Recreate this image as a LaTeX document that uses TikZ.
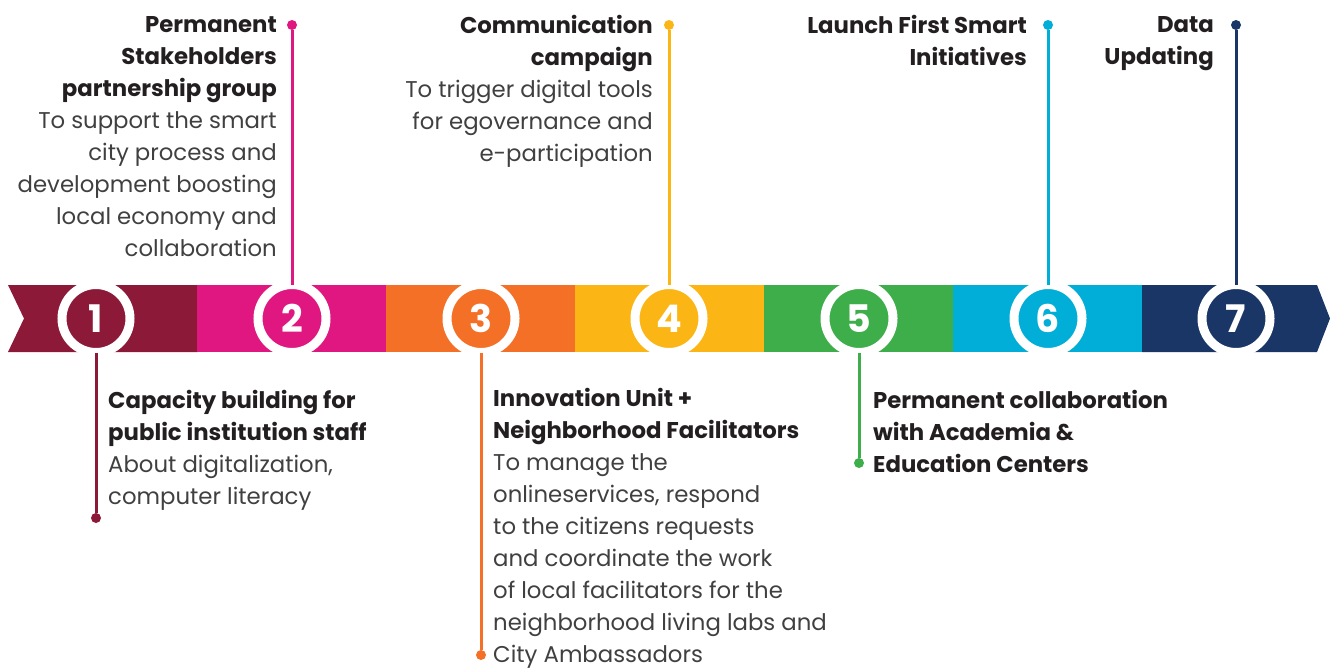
\documentclass[tikz,border=0pt]{standalone}
\usepackage{fontspec}
\setmainfont{Poppins}
\usetikzlibrary{positioning}
\definecolor{stepone}{RGB}{141, 25, 56}
\definecolor{steptwo}{RGB}{224, 23, 128}
\definecolor{stepthree}{RGB}{243, 112, 38}
\definecolor{stepfour}{RGB}{251, 182, 21}
\definecolor{stepfive}{RGB}{61, 174, 73}
\definecolor{stepsix}{RGB}{0, 174, 216}
\definecolor{stepseven}{RGB}{25, 54, 103}
\definecolor{titlecolor}{RGB}{35, 31, 32}
\definecolor{bodycolor}{RGB}{64, 64, 64}
\newcommand{\notetitle}[1]{{\bfseries\color{titlecolor}#1}}

\begin{document}
\begin{tikzpicture}[
        x=1pt, y=-1pt,
        badge/.style={circle, draw=white, line width=9pt, minimum size=68pt, inner sep=0pt, text=white, font=\fontsize{38}{38}\selectfont\bfseries},
        stem/.style={line width=3pt, shorten <=-4.5pt},
        dot/.style={circle, minimum size=10pt, inner sep=0pt},
        note/.style={inner sep=0pt, font=\fontsize{22.8}{32}\selectfont, text=bodycolor}
    ]
        \useasboundingbox (0,0) rectangle (1330,669);

        % Timeline band
        \fill[stepone] (8,285) -- (197.5,285) -- (197.5,352) -- (8,352) -- (24,318.5) -- cycle;
        \foreach \c/\x in {steptwo/197, stepthree/386, stepfour/575, stepfive/764, stepsix/953} {
            \fill[\c] (\x,285) rectangle (\x+189.5,352);
        }
        \fill[stepseven] (1142,285) -- (1317,285) -- (1330,318.5) -- (1317,352) -- (1142,352) -- cycle;

        % Steps
        \node[badge, fill=stepone] (n1) at (96,318.5) {1};
        \node[badge, fill=steptwo] (n2) at (292,318.5) {2};
        \node[badge, fill=stepthree] (n3) at (481,318.5) {3};
        \node[badge, fill=stepfour] (n4) at (669,318.5) {4};
        \node[badge, fill=stepfive] (n5) at (859,318.5) {5};
        \node[badge, fill=stepsix] (n6) at (1048,318.5) {6};
        \node[badge, fill=stepseven] (n7) at (1236,318.5) {7};

        % End dots
        \node[dot, fill=stepone] (d1) at (96,518) {};
        \node[dot, fill=steptwo] (d2) at (292,25) {};
        \node[dot, fill=stepthree] (d3) at (481,655) {};
        \node[dot, fill=stepfour] (d4) at (669,25) {};
        \node[dot, fill=stepfive] (d5) at (859,463) {};
        \node[dot, fill=stepsix] (d6) at (1048,25) {};
        \node[dot, fill=stepseven] (d7) at (1236,25) {};

        % Stems
        \foreach \i/\c in {1/stepone, 2/steptwo, 3/stepthree, 4/stepfour, 5/stepfive, 6/stepsix, 7/stepseven} {
            \draw[stem, \c] (n\i) -- (d\i);
        }

        % Notes above the band
        \node[note, anchor=north east, align=right] (t2) at (277,16.5) {
            \notetitle{Permanent}\\
            \notetitle{Stakeholders}\\
            \notetitle{partnership group}\\
            To support the smart\\
            city process and\\
            development boosting\\
            local economy and\\
            collaboration};
        \node[note, anchor=north east, align=right] (t4) at (653,15.5) {
            \notetitle{Communication}\\
            \notetitle{campaign}\\
            To trigger digital tools\\
            for egovernance and\\
            e-participation};
        \node[note, anchor=north east, align=right] (t6) at (1027,15.5) {
            \notetitle{Launch First Smart}\\
            \notetitle{Initiatives}};
        \node[note, anchor=north east, align=right] (t7) at (1214,16.5) {
            \notetitle{Data}\\
            \notetitle{Updating}};

        % Notes below the band
        \node[note, anchor=north west, align=left] (t1) at (108,390) {
            \notetitle{Capacity building for}\\
            \notetitle{public institution staff}\\
            About digitalization,\\
            computer literacy};
        \node[note, anchor=north west, align=left] (t3) at (493,388) {
            \notetitle{Innovation Unit +}\\
            \notetitle{Neighborhood Facilitators}\\
            To manage the\\
            onlineservices, respond\\
            to the citizens requests\\
            and coordinate the work\\
            of local facilitators for the\\
            neighborhood living labs and\\
            City Ambassadors};
        \node[note, anchor=north west, align=left] (t5) at (873,390) {
            \notetitle{Permanent collaboration}\\
            \notetitle{with Academia \&}\\
            \notetitle{Education Centers}};

\end{tikzpicture}
\end{document}
